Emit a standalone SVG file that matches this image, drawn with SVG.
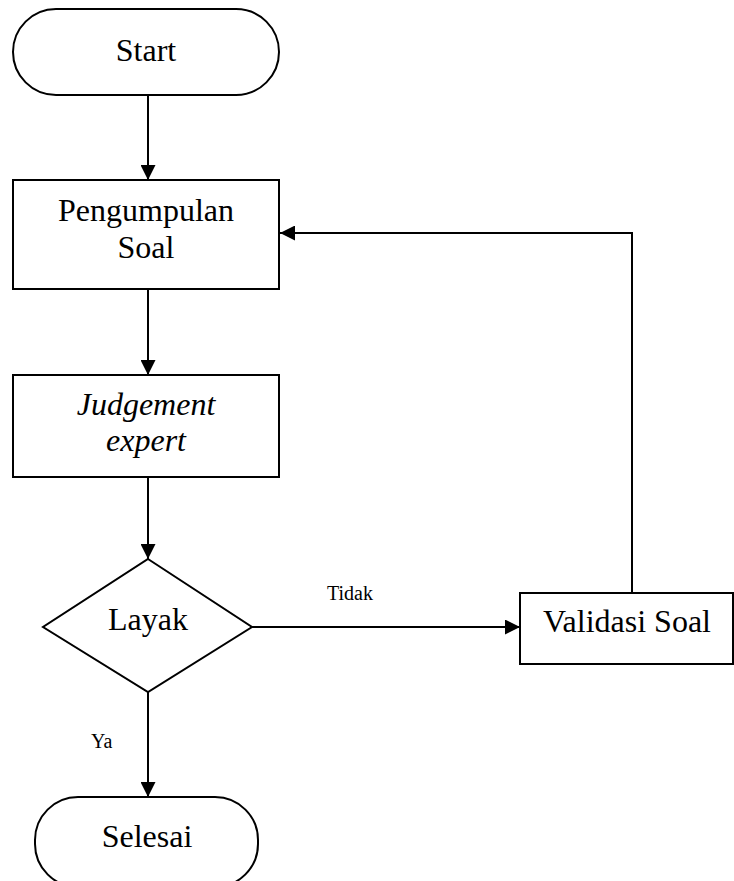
<svg xmlns="http://www.w3.org/2000/svg" width="734" height="881" viewBox="0 0 734 881">
<style>
.s{fill:#fff;stroke:#000;stroke-width:2}
.t{font-family:"Liberation Serif","Times New Roman",serif;font-size:32px;fill:#000;text-anchor:middle}
.i{font-style:italic}
.l{font-family:"Liberation Serif","Times New Roman",serif;font-size:20px;fill:#000}
.c{fill:none;stroke:#000;stroke-width:2}
</style>
<defs>
<marker id="a" markerWidth="15" markerHeight="15" refX="15" refY="7.5" orient="auto" markerUnits="userSpaceOnUse">
<path d="M0,0 L15,7.5 L0,15 Z" fill="#000"/>
</marker>
</defs>
<rect width="734" height="881" fill="#fff"/>
<g id="connectors">
<line class="c" x1="148" y1="95" x2="148" y2="180" marker-end="url(#a)"/>
<line class="c" x1="148" y1="289" x2="148" y2="375" marker-end="url(#a)"/>
<line class="c" x1="148" y1="477" x2="148" y2="559" marker-end="url(#a)"/>
<line class="c" x1="148" y1="692" x2="148" y2="797" marker-end="url(#a)"/>
<line class="c" x1="252" y1="627" x2="520" y2="627" marker-end="url(#a)"/>
<polyline class="c" points="632,593 632,233 280,233" marker-end="url(#a)"/>
<text class="l" x="327" y="600">Tidak</text>
<text class="l" x="91" y="748">Ya</text>
</g>
<g id="start">
<rect class="s" x="13" y="9" width="266" height="86" rx="43" ry="43"/>
<text class="t" x="146" y="61">Start</text>
</g>
<g id="pengumpulan">
<rect class="s" x="13" y="180" width="266" height="109"/>
<text class="t" x="146" y="221">Pengumpulan</text>
<text class="t" x="146" y="258">Soal</text>
</g>
<g id="judgement">
<rect class="s" x="13" y="375" width="266" height="102"/>
<text class="t i" x="146" y="415">Judgement</text>
<text class="t i" x="146" y="451">expert</text>
</g>
<g id="layak">
<polygon class="s" points="148,559 252,627 148,692 43,627"/>
<text class="t" x="148" y="630">Layak</text>
</g>
<g id="validasi">
<rect class="s" x="520" y="593" width="213" height="71"/>
<text class="t" x="627" y="632">Validasi Soal</text>
</g>
<g id="selesai">
<rect class="s" x="35" y="797" width="223" height="90" rx="43" ry="43"/>
<text class="t" x="147" y="847">Selesai</text>
</g>
</svg>
